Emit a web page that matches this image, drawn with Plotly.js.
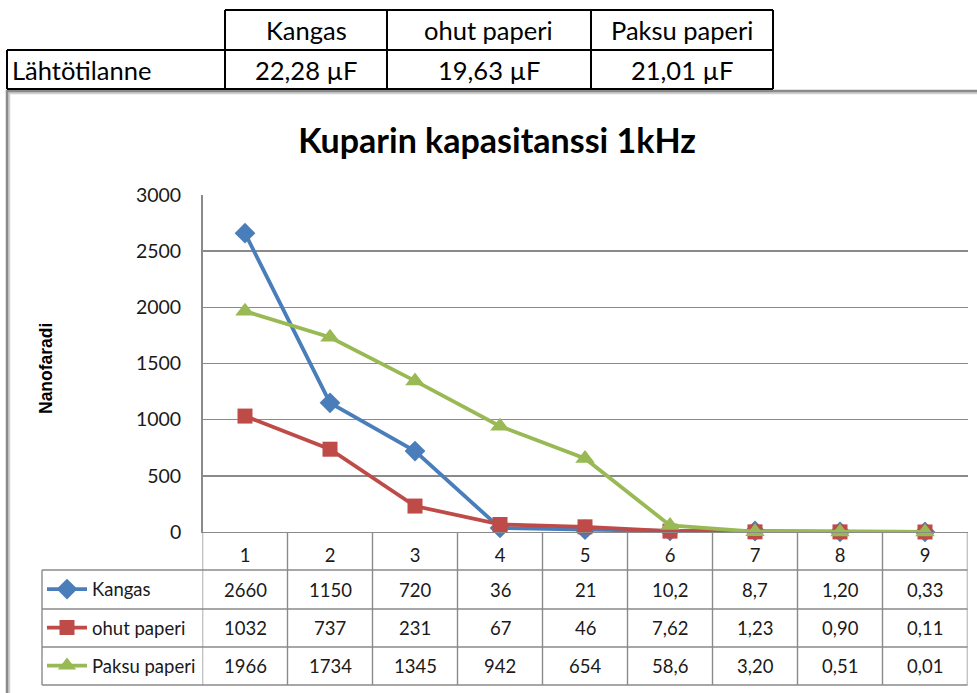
<!DOCTYPE html>
<html>
<head>
<meta charset="utf-8">
<script src="https://cdn.plot.ly/plotly-3.0.1.min.js"></script>
<style>html,body{margin:0;padding:0;background:#fff;}#chart{width:977px;height:693px;}</style>
</head>
<body>
<div id="chart"></div>
<script>
// ---- data ----
const categories = ['1','2','3','4','5','6','7','8','9'];
const seriesNames = ['Kangas','ohut paperi','Paksu paperi'];
const kangasText = ['2660','1150','720','36','21','10,2','8,7','1,20','0,33'];
const ohutText   = ['1032','737','231','67','46','7,62','1,23','0,90','0,11'];
const paksuText  = ['1966','1734','1345','942','654','58,6','3,20','0,51','0,01'];
const yTicks = [0,500,1000,1500,2000,2500,3000];
const chartTitle = 'Kuparin kapasitanssi 1kHz';
const yTitle = 'Nanofaradi';
const topHeaders = ['Kangas','ohut paperi','Paksu paperi'];
const topRowLabel = 'Lähtötilanne';
const topValues = ['22,28 µF','19,63 µF','21,01 µF'];

// ---- styling / layout helpers ----
const W = 977, H = 693;
const px = v => v / W;
const py = v => 1 - v / H;
const FONT = 'Lato, "Open Sans", sans-serif';
const gridCol = '#8a8a8a';
const colors = ['#4A7EBB', '#BE4B48', '#98B954'];
const symbols = ['diamond', 'square', 'triangle-up'];
const msizes = [16, 15, 17];
const texts = [kangasText, ohutText, paksuText];
const toNum = s => parseFloat(s.replace(',', '.'));
const xs = categories.map((c, i) => i + 1);

// plot area in pixels
const plotL = 202.5, plotR = 967.5, plotT = 195, plotB = 532;
const rowLines = [532, 570, 609, 647, 685];
const tableLeft = 42;

const legendNames = ['legend', 'legend2', 'legend3'];
const traces = seriesNames.map((name, s) => ({
  type: 'scatter', mode: 'lines+markers', name: name,
  x: xs, y: texts[s].map(toNum),
  line: {color: colors[s], width: 3.8},
  marker: {symbol: symbols[s], size: msizes[s], color: colors[s]},
  legend: legendNames[s], showlegend: true, cliponaxis: false
}));

const shapes = [];
const annotations = [];

// chart frame (with a soft shadow)
shapes.push({type: 'rect', xref: 'paper', yref: 'paper', x0: px(9), x1: px(992), y0: py(712), y1: py(93),
  line: {color: '#cfcfcf', width: 2.5}, layer: 'below'});
shapes.push({type: 'rect', xref: 'paper', yref: 'paper', x0: px(7), x1: px(990), y0: py(710), y1: py(91),
  line: {color: '#8a8a8a', width: 2.5}, layer: 'below'});

// data table horizontal lines
rowLines.slice(1).forEach(r => shapes.push({type: 'line', xref: 'paper', yref: 'paper',
  x0: px(tableLeft), x1: px(plotR), y0: py(r), y1: py(r), line: {color: gridCol, width: 1.4}}));
// left border of the series column
shapes.push({type: 'line', xref: 'paper', yref: 'paper', x0: px(tableLeft), x1: px(tableLeft),
  y0: py(rowLines[1]), y1: py(rowLines[4]), line: {color: gridCol, width: 1.4}});
// category column separators (through the axis scale)
for (let i = 0; i <= categories.length; i++) {
  shapes.push({type: 'line', xref: 'x', yref: 'paper', x0: i + 0.5, x1: i + 0.5,
    y0: py(rowLines[0]), y1: py(rowLines[4]), line: {color: gridCol, width: 1.4}});
}
// table values
texts.forEach((arr, s) => {
  const yc = (rowLines[s + 1] + rowLines[s + 2]) / 2;
  arr.forEach((t, i) => annotations.push({xref: 'x', yref: 'paper', x: xs[i], y: py(yc),
    text: t, showarrow: false, xanchor: 'center', yanchor: 'middle',
    font: {family: FONT, size: 18.5, color: '#1a1a1a'}}));
});

// top table (outside the chart)
const topCols = [7, 225, 387, 591, 773];
const topRows = [10, 50, 89];
const blk = {color: '#000', width: 2};
shapes.push({type: 'line', xref: 'paper', yref: 'paper', x0: px(topCols[1]), x1: px(topCols[4]), y0: py(topRows[0]), y1: py(topRows[0]), line: blk});
shapes.push({type: 'line', xref: 'paper', yref: 'paper', x0: px(topCols[0]), x1: px(topCols[4]), y0: py(topRows[1]), y1: py(topRows[1]), line: blk});
shapes.push({type: 'line', xref: 'paper', yref: 'paper', x0: px(topCols[0]), x1: px(topCols[4]), y0: py(topRows[2]), y1: py(topRows[2]), line: blk});
shapes.push({type: 'line', xref: 'paper', yref: 'paper', x0: px(topCols[0]), x1: px(topCols[0]), y0: py(topRows[1]), y1: py(topRows[2]), line: blk});
for (let c = 1; c < topCols.length; c++) {
  shapes.push({type: 'line', xref: 'paper', yref: 'paper', x0: px(topCols[c]), x1: px(topCols[c]), y0: py(topRows[0]), y1: py(topRows[2]), line: blk});
}
const topFont = {family: FONT, size: 25.5, color: '#000'};
topHeaders.forEach((h, c) => annotations.push({xref: 'paper', yref: 'paper',
  x: px((topCols[c + 1] + topCols[c + 2]) / 2), y: py((topRows[0] + topRows[1]) / 2),
  text: h, showarrow: false, xanchor: 'center', yanchor: 'middle', font: topFont}));
topValues.forEach((v, c) => annotations.push({xref: 'paper', yref: 'paper',
  x: px((topCols[c + 1] + topCols[c + 2]) / 2), y: py((topRows[1] + topRows[2]) / 2),
  text: v, showarrow: false, xanchor: 'center', yanchor: 'middle', font: topFont}));
annotations.push({xref: 'paper', yref: 'paper', x: px(topCols[0] + 3), y: py((topRows[1] + topRows[2]) / 2),
  text: topRowLabel, showarrow: false, xanchor: 'left', yanchor: 'middle', font: topFont});

// y-axis title
annotations.push({xref: 'paper', yref: 'paper', x: px(46), y: py(369), text: yTitle, textangle: -90,
  showarrow: false, xanchor: 'center', yanchor: 'middle',
  font: {family: '"Liberation Sans", Arial, sans-serif', size: 17.5, color: '#000', weight: 'bold'}});

const legendBase = {bgcolor: 'rgba(0,0,0,0)', borderwidth: 0, xanchor: 'left', yanchor: 'middle',
  font: {family: FONT, size: 18.5, color: '#1a1a1a'}, itemwidth: 40, tracegroupgap: 0};
const layout = {
  width: W, height: H, margin: {l: 0, r: 0, t: 0, b: 0},
  paper_bgcolor: '#fff', plot_bgcolor: '#fff',
  title: {text: chartTitle, x: px(497), y: py(141), xanchor: 'center', yanchor: 'middle',
    font: {family: FONT, size: 34, color: '#000', weight: 'bold'}},
  xaxis: {domain: [px(plotL), px(plotR)], range: [0.5, 9.5], tickvals: xs, ticktext: categories,
    showgrid: false, zeroline: false, showline: true, linecolor: gridCol, linewidth: 1.4,
    ticks: '', ticklabelstandoff: 6, tickfont: {family: FONT, size: 18.5, color: '#1a1a1a'}},
  yaxis: {domain: [py(plotB), py(plotT)], range: [0, 3000], tickvals: yTicks,
    showgrid: true, gridcolor: gridCol, gridwidth: 1.4, zeroline: false,
    showline: true, linecolor: gridCol, linewidth: 1.4, ticks: '', ticklabelstandoff: 16,
    tickfont: {family: FONT, size: 19.5, color: '#1a1a1a'}},
  legend: Object.assign({}, legendBase, {x: px(tableLeft), y: py((rowLines[1] + rowLines[2]) / 2)}),
  legend2: Object.assign({}, legendBase, {x: px(tableLeft), y: py((rowLines[2] + rowLines[3]) / 2)}),
  legend3: Object.assign({}, legendBase, {x: px(tableLeft), y: py((rowLines[3] + rowLines[4]) / 2)}),
  shapes: shapes, annotations: annotations
};

Plotly.newPlot('chart', traces, layout, {staticPlot: true, displayModeBar: false});
</script>
</body>
</html>
